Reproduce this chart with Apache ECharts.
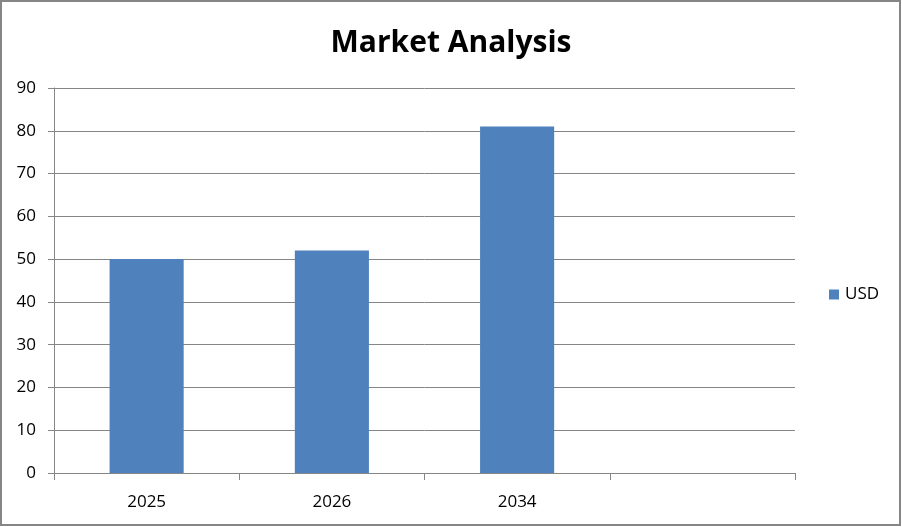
<!DOCTYPE html>
<html>
<head>
<meta charset="utf-8">
<script src="https://cdn.jsdelivr.net/npm/echarts@6/dist/echarts.min.js"></script>
<style>
html,body{margin:0;padding:0;background:#fff;}
#chart{width:902px;height:527px;}
</style>
</head>
<body>
<div id="chart"></div>
<script>
var categories = ['2025', '2026', '2034', ''];
var usdValues = [50, 52, 81, null];
var yTicks = { min: 0, max: 90, interval: 10 };

var chart = echarts.init(document.getElementById('chart'), null, { renderer: 'canvas' });
var font = '"Open Sans", sans-serif';
chart.setOption({
  animation: false,
  backgroundColor: '#ffffff',
  title: {
    text: 'Market Analysis',
    left: 'center',
    top: 23,
    textStyle: { fontFamily: font, fontSize: 30, fontWeight: 'bold', color: '#000' }
  },
  legend: {
    data: ['USD'],
    orient: 'vertical',
    left: 829,
    top: 286,
    padding: 0,
    itemWidth: 10,
    itemHeight: 10,
    itemGap: 6,
    icon: 'rect',
    textStyle: { fontFamily: font, fontSize: 17, color: '#000', padding: [0, 0, 0, 1] }
  },
  grid: { left: 54, right: 107, top: 88, bottom: 54, containLabel: false },
  xAxis: {
    type: 'category',
    data: categories,
    axisLine: { lineStyle: { color: '#868686', width: 1 } },
    axisTick: { show: true, length: 7, lineStyle: { color: '#868686' }, alignWithLabel: false },
    axisLabel: { fontFamily: font, fontSize: 17, color: '#000', margin: 21 },
    splitLine: { show: false }
  },
  yAxis: {
    type: 'value',
    min: yTicks.min,
    max: yTicks.max,
    interval: yTicks.interval,
    axisLine: { show: true, lineStyle: { color: '#868686', width: 1 } },
    axisTick: { show: true, length: 6, lineStyle: { color: '#868686' } },
    axisLabel: { fontFamily: font, fontSize: 17, color: '#000', margin: 18 },
    splitLine: { show: true, lineStyle: { color: '#868686', width: 1 } }
  },
  series: [{
    name: 'USD',
    type: 'bar',
    data: usdValues,
    barWidth: '40%',
    itemStyle: { color: '#4F81BD' }
  }],
  graphic: [{
    type: 'rect',
    shape: { x: 1, y: 1, width: 899, height: 524 },
    style: { fill: 'none', stroke: '#868686', lineWidth: 2 },
    z: 100
  }]
});
</script>
</body>
</html>
